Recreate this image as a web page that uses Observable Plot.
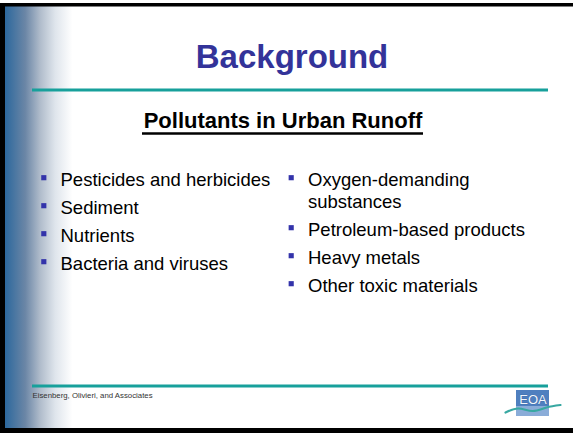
<!DOCTYPE html>
<html>
<head>
<meta charset="utf-8">
<script src="https://cdn.jsdelivr.net/npm/d3@7"></script>
<script src="https://cdn.jsdelivr.net/npm/@observablehq/plot@0.6"></script>
<style>
  html, body { margin: 0; padding: 0; background: #ffffff; overflow: hidden; }
  #chart svg { display: block; }
</style>
</head>
<body>
<div id="chart"></div>
<script>
// ---- content ----
const title = "Background";
const subtitle = "Pollutants in Urban Runoff";
const leftItems = ["Pesticides and herbicides", "Sediment", "Nutrients", "Bacteria and viruses"];
const rightItems = ["Oxygen-demanding\nsubstances", "Petroleum-based products", "Heavy metals", "Other toxic materials"];
const footer = "Eisenberg, Olivieri, and Associates";
const logoText = "EOA";

// ---- layout (slide coordinates, px) ----
const W = 573, H = 433;
const L = {
  titleX: 291.5, titleBase: 67, titleSize: 33,
  subX: 282.5, subBase: 127, subSize: 22, subUnder: 133, subX1: 142, subX2: 423,
  ruleX1: 32, ruleX2: 548, topRuleY: 89.5, footRuleY: 385.5,
  firstBase: 183.5, itemStep: 28, wrapStep: 22, itemSize: 18.5,
  leftText: 60, leftBullet: 43.3, rightText: 307.5, rightBullet: 290.7, bulletUp: 6.3,
  footX: 32, footBase: 397, footSize: 7.8,
  logo: {x1: 516, x2: 549, y1: 390, y2: 416, split: 406},
  sidebar: {x1: 5, x2: 80, y1: 6, y2: 428}
};
const logoWave = [[505, 412], [518, 408], [532, 410.5], [546, 407], [560, 404.5]];

function rows(items, xText, xBullet) {
  let extra = 0;
  return items.map((t, i) => {
    const base = L.firstBase + i * L.itemStep + extra * L.wrapStep;
    extra += t.split("\n").length - 1;
    return {text: t, base, xText, xBullet};
  });
}
const items = [...rows(leftItems, L.leftText, L.leftBullet), ...rows(rightItems, L.rightText, L.rightBullet)];

const gradientDefs = () => {
  const defs = d3.create("svg:defs");
  const g = defs.append("linearGradient").attr("id", "sidebar").attr("x1", 0).attr("x2", 1).attr("y1", 0).attr("y2", 0);
  [[0, "#2c689d"], [0.27, "#6b86a6"], [0.47, "#b0bccb"], [0.67, "#dfe5ec"], [0.9, "#ffffff"]]
    .forEach(([o, c]) => g.append("stop").attr("offset", o).attr("stop-color", c));
  return defs.node();
};

const font = "Liberation Sans, Arial, Helvetica, sans-serif";
const teal = "#17a09b";

const plot = Plot.plot({
  width: W, height: H,
  margin: 0,
  x: {domain: [0, W], range: [0, W], axis: null},
  y: {domain: [0, H], range: [0, H], axis: null},
  style: {background: "#ffffff"},
  marks: [
    gradientDefs,
    // sidebar gradient
    Plot.rect([L.sidebar], {x1: "x1", x2: "x2", y1: "y1", y2: "y2", fill: "url(#sidebar)"}),
    // frame
    Plot.rect([{x1: 0, x2: W, y1: 3, y2: 6.5}, {x1: 0, x2: 5, y1: 3, y2: H}, {x1: 0, x2: W, y1: 428, y2: H}],
      {x1: "x1", x2: "x2", y1: "y1", y2: "y2", fill: "#000000"}),
    // teal rules
    Plot.ruleY([L.topRuleY, L.footRuleY], {x1: L.ruleX1, x2: L.ruleX2, stroke: teal, strokeWidth: 3}),
    // title
    Plot.text([title], {x: L.titleX, y: L.titleBase, text: d => d, fontFamily: font, fontSize: L.titleSize,
      fontWeight: "bold", fill: "#333399", textAnchor: "middle", lineAnchor: "bottom"}),
    // subtitle
    Plot.text([subtitle], {x: L.subX, y: L.subBase, text: d => d, fontFamily: font, fontSize: L.subSize,
      fontWeight: "bold", fill: "#000000", textAnchor: "middle", lineAnchor: "bottom"}),
    Plot.ruleY([L.subUnder], {x1: L.subX1, x2: L.subX2, stroke: "#000000", strokeWidth: 2.5}),
    // bullets
    Plot.dot(items, {x: "xBullet", y: d => d.base - L.bulletUp, symbol: "square", r: 2.9, fill: "#3333aa", stroke: "none"}),
    // items
    Plot.text(items, {x: "xText", y: d => d.base - 0.71 * L.itemSize, text: "text", fontFamily: font,
      fontSize: L.itemSize, fill: "#000000", textAnchor: "start", lineAnchor: "top", lineHeight: L.wrapStep / L.itemSize}),
    // footer
    Plot.text([footer], {x: L.footX, y: L.footBase, text: d => d, fontFamily: font, fontSize: L.footSize,
      fill: "#333333", textAnchor: "start", lineAnchor: "bottom"}),
    // logo
    Plot.rect([{x1: L.logo.x1, x2: L.logo.x2, y1: L.logo.y1, y2: L.logo.split, c: "#4f7fbf"},
               {x1: L.logo.x1, x2: L.logo.x2, y1: L.logo.split, y2: L.logo.y2, c: "#8aacd8"}],
      {x1: "x1", x2: "x2", y1: "y1", y2: "y2", fill: "c"}),
    Plot.text([logoText], {x: (L.logo.x1 + L.logo.x2) / 2, y: L.logo.y1 + 13, text: d => d, fontFamily: font,
      fontSize: 13, letterSpacing: -1, fill: "#f2f6fb", stroke: "#2f5f9f", strokeWidth: 0.6, textAnchor: "middle", lineAnchor: "bottom"}),
    Plot.line(logoWave, {x: d => d[0], y: d => d[1], curve: "natural", stroke: "#38a8a2", strokeWidth: 2.2})
  ]
});
document.getElementById("chart").append(plot);
</script>
</body>
</html>
